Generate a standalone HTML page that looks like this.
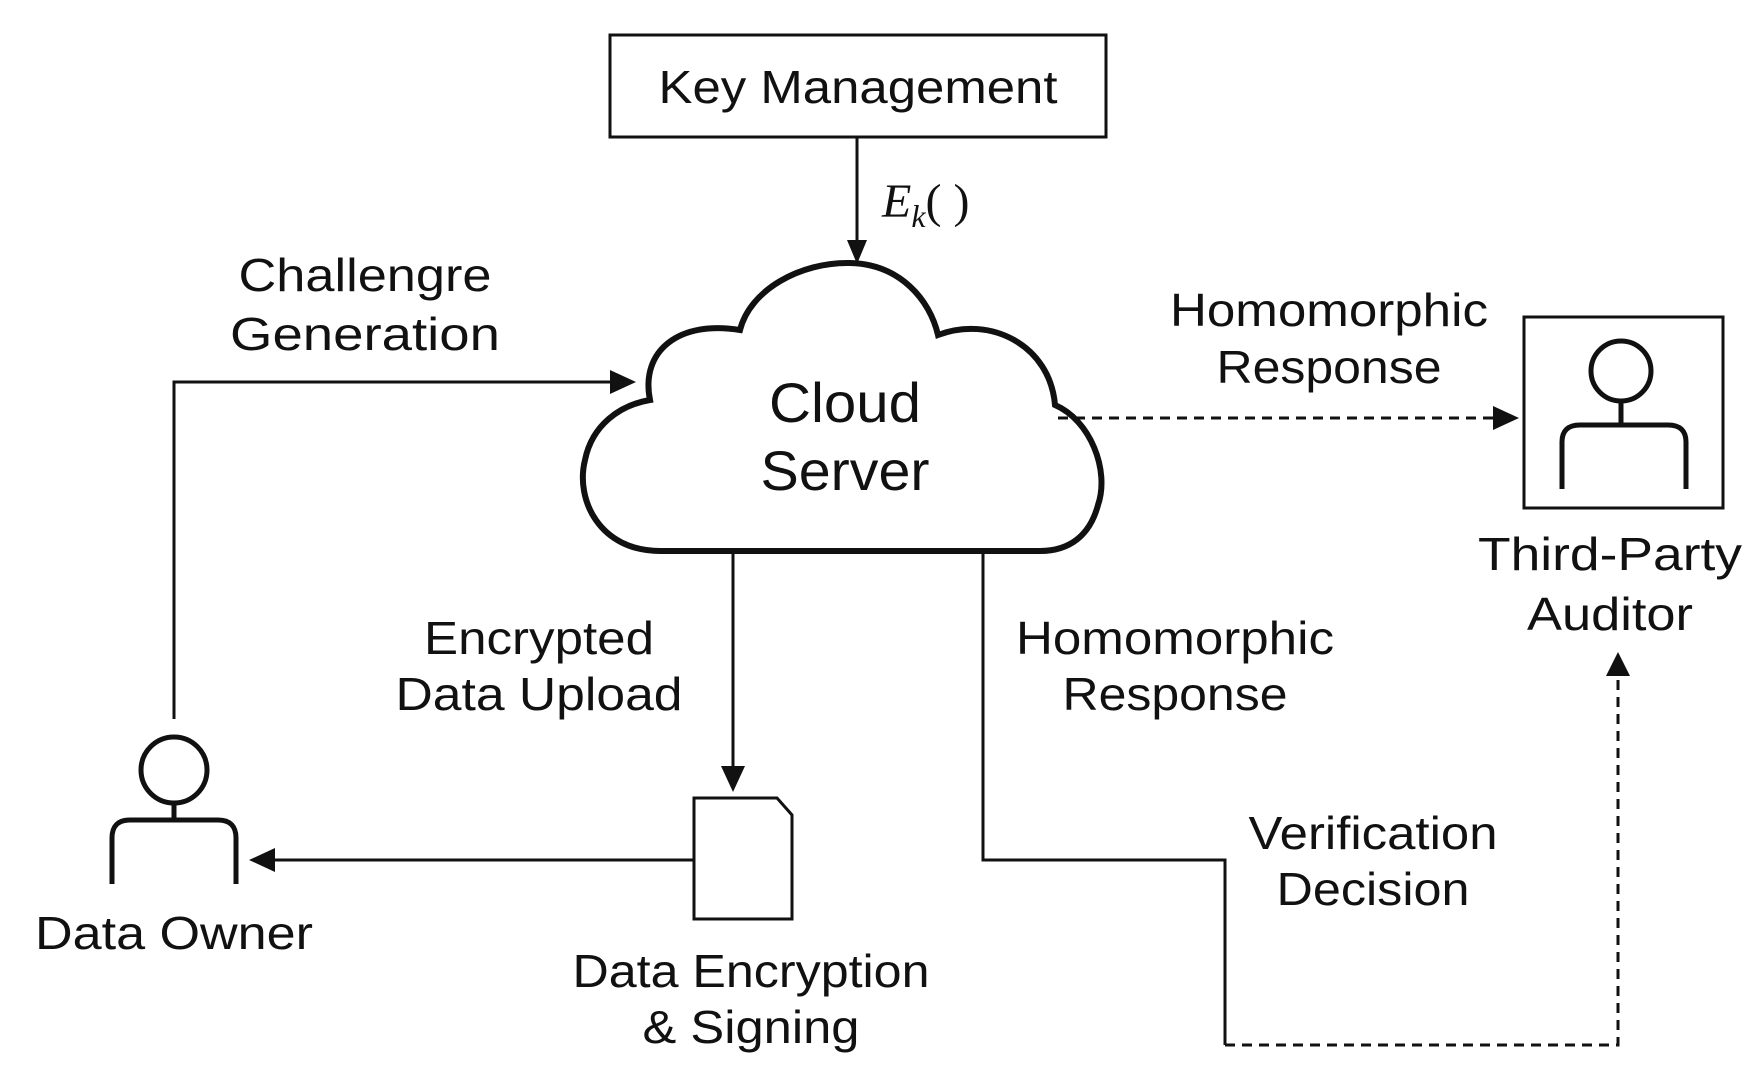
<!DOCTYPE html>
<html><head><style>body{margin:0;background:#fff}svg{display:block}</style></head>
<body>
<svg width="1762" height="1091" viewBox="0 0 1762 1091" xmlns="http://www.w3.org/2000/svg">
<defs>
<marker id="a" markerWidth="10" markerHeight="10" refX="9" refY="5" orient="auto" markerUnits="userSpaceOnUse" viewBox="0 0 10 10"><path d="M0,0 L10,5 L0,10 Z" fill="#111"/></marker>
</defs>
<rect width="1762" height="1091" fill="#fff"/>
<g fill="none" stroke="#111" stroke-width="3">
<rect x="610" y="35" width="496" height="102"/>
<line x1="857" y1="137" x2="857" y2="260" marker-end="url(#a)" style="--m:0"/>
<path d="M660 551 C600 551 575 500 585 460 C592 425 620 405 650 400 C640 350 680 320 740 330 C750 290 800 262 850 263 C900 264 930 300 938 335 C990 315 1050 345 1055 405 C1090 420 1110 470 1098 505 C1090 535 1070 551 1040 551 Z" stroke-width="6"/>
<polyline points="174,719 174,382 630,382"/>
<line x1="1058" y1="418" x2="1515" y2="418" stroke-dasharray="10,7"/>
<rect x="1524" y="317" width="199" height="191"/>
<circle cx="1621" cy="371" r="30" stroke-width="5"/>
<path d="M1621 401 V425 M1562 489 V442 Q1562 425 1580 425 H1668 Q1686 425 1686 442 V489" stroke-width="5"/>
<polyline points="983,551 983,860 1225,860 1225,1045"/>
<polyline points="1225,1045 1618,1045 1618,656" stroke-dasharray="10,7"/>
<line x1="733" y1="551" x2="733" y2="788"/>
<path d="M694 798 H777 L792 815 V919 H694 Z"/>
<line x1="694" y1="860" x2="253" y2="860"/>
<circle cx="174" cy="770" r="33" stroke-width="5"/>
<path d="M174 803 V820 M112 884 V838 Q112 820 130 820 H218 Q236 820 236 838 V884" stroke-width="5"/>
</g>
<g fill="#111">
<path d="M847 240 L857 264 L867 240 Z"/>
<path d="M610 370 L636 382 L610 394 Z"/>
<path d="M1493 406 L1519 418 L1493 430 Z"/>
<path d="M1606 676 L1618 652 L1630 676 Z"/>
<path d="M721 766 L733 792 L745 766 Z"/>
<path d="M275 848 L249 860 L275 872 Z"/>
</g>
<g font-family="Liberation Sans, sans-serif" font-size="46" fill="#111" text-anchor="middle">
<text x="858" y="103" textLength="399" lengthAdjust="spacingAndGlyphs">Key Management</text>
<text x="882" y="217" text-anchor="start" font-family="Liberation Serif, serif" font-style="italic" font-size="48">E<tspan font-size="32" dy="10">k</tspan><tspan font-style="normal" dy="-10">( )</tspan></text>
<text x="845" y="422" font-size="56" textLength="152" lengthAdjust="spacingAndGlyphs">Cloud</text>
<text x="845" y="490" font-size="56" textLength="169" lengthAdjust="spacingAndGlyphs">Server</text>
<text x="365" y="291" textLength="253" lengthAdjust="spacingAndGlyphs">Challengre</text>
<text x="365" y="350" textLength="270" lengthAdjust="spacingAndGlyphs">Generation</text>
<text x="1329" y="326" textLength="318" lengthAdjust="spacingAndGlyphs">Homomorphic</text>
<text x="1329" y="383" textLength="225" lengthAdjust="spacingAndGlyphs">Response</text>
<text x="1610" y="570" textLength="264" lengthAdjust="spacingAndGlyphs">Third-Party</text>
<text x="1610" y="630" textLength="166" lengthAdjust="spacingAndGlyphs">Auditor</text>
<text x="539" y="654" textLength="230" lengthAdjust="spacingAndGlyphs">Encrypted</text>
<text x="539" y="710" textLength="287" lengthAdjust="spacingAndGlyphs">Data Upload</text>
<text x="1175" y="654" textLength="318" lengthAdjust="spacingAndGlyphs">Homomorphic</text>
<text x="1175" y="710" textLength="225" lengthAdjust="spacingAndGlyphs">Response</text>
<text x="1373" y="849" textLength="249" lengthAdjust="spacingAndGlyphs">Verification</text>
<text x="1373" y="905" textLength="193" lengthAdjust="spacingAndGlyphs">Decision</text>
<text x="174" y="949" textLength="278" lengthAdjust="spacingAndGlyphs">Data Owner</text>
<text x="751" y="987" textLength="357" lengthAdjust="spacingAndGlyphs">Data Encryption</text>
<text x="751" y="1043" textLength="217" lengthAdjust="spacingAndGlyphs">&amp; Signing</text>
</g>
</svg>
</body></html>
